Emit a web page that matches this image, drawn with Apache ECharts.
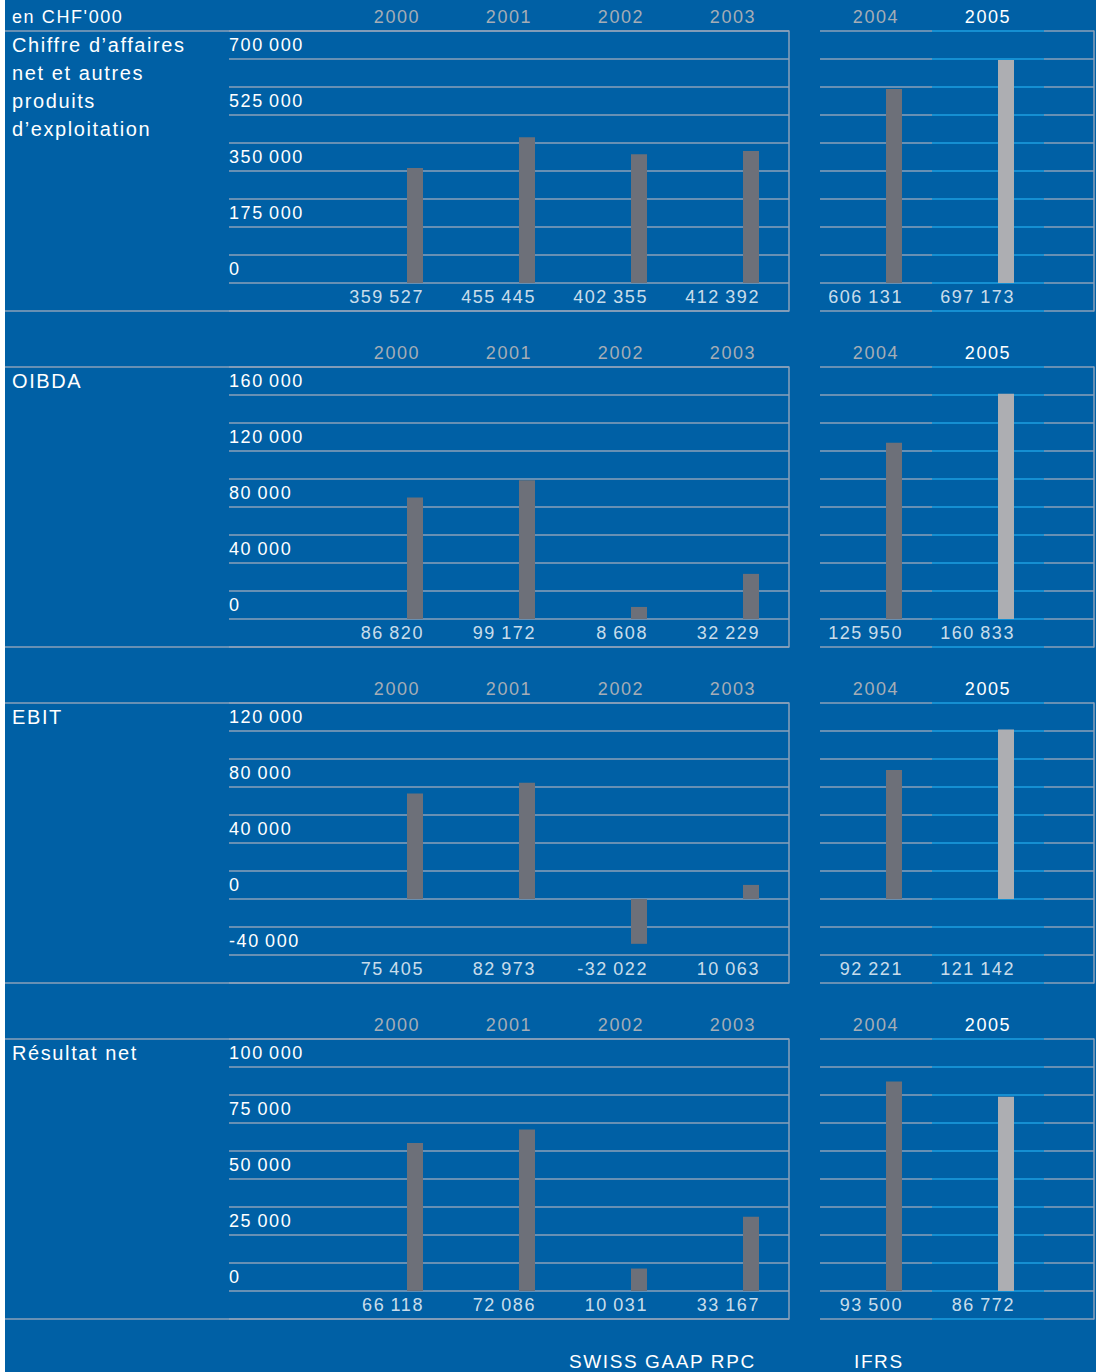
<!DOCTYPE html>
<html>
<head>
<meta charset="utf-8">
<script src="https://cdn.jsdelivr.net/npm/echarts@6/dist/echarts.min.js"></script>
<style>
  html, body { margin: 0; padding: 0; background: #ffffff; }
  #chart {
    position: absolute; left: 0; top: 0; width: 1096px; height: 1372px;
    background: linear-gradient(to right, #ffffff 0px, #ffffff 5px, #0060a5 5px, #0060a5 100%);
    letter-spacing: 1.6px;
  }
</style>
</head>
<body>
<div id="chart"></div>
<script>
// ---- data ----
const years = ['2000', '2001', '2002', '2003', '2004', '2005'];
const unitLabel = "en CHF'000";
const panelTitles = [
  "Chiffre d\u2019affaires\nnet et autres\nproduits\nd\u2019exploitation",
  "OIBDA",
  "EBIT",
  "R\u00e9sultat net"
];
const revenue   = [359527, 455445, 402355, 412392, 606131, 697173];
const oibda     = [86820, 99172, 8608, 32229, 125950, 160833];
const ebit      = [75405, 82973, -32022, 10063, 92221, 121142];
const netResult = [66118, 72086, 10031, 33167, 93500, 86772];
const axisMin   = [-87500, -20000, -60000, -12500];
const axisMax   = [787500, 180000, 140000, 112500];
const axisStep  = [87500, 20000, 20000, 12500];
const labelStep = [175000, 40000, 40000, 25000];
const standardLeft = 'SWISS GAAP RPC';
const standardRight = 'IFRS';

const panels = [revenue, oibda, ebit, netResult];

// ---- style ----
const FONT = 'Liberation Sans';
const LINE = '#8aa1ba';
const LINE_HI = '#1d9fe2';
const BAR = '#6d7079';
const BAR_HI = '#adaeb2';
const YEAR_GREY = '#a5adb6';
const WHITE = '#ffffff';
const LW = 1.5;

function fmt(n) {
  const s = String(Math.abs(Math.round(n)));
  const parts = [];
  for (let i = s.length; i > 0; i -= 3) parts.unshift(s.slice(Math.max(0, i - 3), i));
  return (n < 0 ? '-' : '') + parts.join('\u2009');
}

const grids = [], xAxes = [], yAxes = [], series = [], titles = [];

titles.push({ text: unitLabel, left: 12, top: 3, padding: 0,
  textStyle: { color: WHITE, fontSize: 18, fontWeight: 'normal', fontFamily: FONT, lineHeight: 28 } });

panels.forEach((vals, p) => {
  const top = 31 + 336 * p;
  const H = 280;
  const base = grids.length;
  const mn = axisMin[p], mx = axisMax[p], st = axisStep[p], ls = labelStep[p];
  const labelY = mn + st / 2;

  titles.push({ text: panelTitles[p], left: 12, top: top, padding: 0,
    textStyle: { color: WHITE, fontSize: 20, fontWeight: 'normal', fontFamily: FONT, lineHeight: 28 } });

  grids.push({ left: 5, top: top, width: 784, height: H });
  grids.push({ left: 229, top: top, width: 560, height: H });
  grids.push({ left: 820, top: top, width: 112, height: H });
  grids.push({ left: 932, top: top, width: 112, height: H });
  grids.push({ left: 1044, top: top, width: 50, height: H });

  const yCommon = (gi, color, extra) => Object.assign({
    gridIndex: gi, type: 'value', min: mn, max: mx, interval: st,
    axisLine: { show: false }, axisTick: { show: false }, axisLabel: { show: false },
    splitLine: { show: true, lineStyle: { color: color, width: LW } }
  }, extra || {});

  xAxes.push({ gridIndex: base, type: 'value', min: 0, max: 1, show: false });
  yAxes.push({ gridIndex: base, type: 'value', min: 0, max: 1, interval: 1, position: 'right',
    axisLine: { show: true, onZero: false, lineStyle: { color: LINE, width: LW } },
    axisTick: { show: false }, axisLabel: { show: false },
    splitLine: { show: true, lineStyle: { color: LINE, width: LW } } });

  const xCat = (gi, data, color) => ({
    gridIndex: gi, type: 'category', data: data, position: 'top',
    axisLine: { show: false }, axisTick: { show: false }, splitLine: { show: false },
    axisLabel: { show: true, color: color, fontSize: 18, fontFamily: FONT, margin: 5, interval: 0 }
  });

  xAxes.push(xCat(base + 1, [''].concat(years.slice(0, 4)), YEAR_GREY));
  yAxes.push(yCommon(base + 1, LINE, {
    axisLabel: {
      show: true, inside: true, margin: 0, align: 'left', verticalAlign: 'bottom',
      lineHeight: 28, color: WHITE, fontSize: 18, fontFamily: FONT,
      showMinLabel: true, showMaxLabel: true,
      formatter: (v) => (v > mn && v < mx && Math.round(v) % ls === 0) ? fmt(v) : ''
    }
  }));
  xAxes.push(xCat(base + 2, [years[4]], YEAR_GREY));
  yAxes.push(yCommon(base + 2, LINE));
  xAxes.push(xCat(base + 3, [years[5]], WHITE));
  yAxes.push(yCommon(base + 3, LINE_HI));
  xAxes.push({ gridIndex: base + 4, type: 'category', data: [''], show: false });
  yAxes.push(yCommon(base + 4, LINE, { position: 'right',
    axisLine: { show: true, onZero: false, lineStyle: { color: LINE, width: LW } } }));

  const barPair = (gi, data, color) => {
    const empty = data.map(() => null);
    series.push({ type: 'bar', xAxisIndex: gi, yAxisIndex: gi, data: empty,
      barWidth: 16, barGap: '125%', silent: true });
    series.push({ type: 'bar', xAxisIndex: gi, yAxisIndex: gi, data: data,
      barWidth: 16, barGap: '125%', silent: true,
      itemStyle: { color: color } });
  };
  const labels = (gi, cats, values) => {
    series.push({ type: 'scatter', xAxisIndex: gi, yAxisIndex: gi, silent: true,
      symbolSize: 1, itemStyle: { color: 'rgba(0,0,0,0)' },
      data: cats.map((c, i) => [c, labelY, values[i]]),
      label: { show: true, position: 'inside', align: 'right', verticalAlign: 'middle',
        offset: [27, 0], color: WHITE, fontSize: 18, fontFamily: FONT,
        formatter: (q) => fmt(q.value[2]) } });
  };

  barPair(base + 1, [null].concat(vals.slice(0, 4)), BAR);
  labels(base + 1, [1, 2, 3, 4], vals.slice(0, 4));
  barPair(base + 2, [vals[4]], BAR);
  labels(base + 2, [0], [vals[4]]);
  barPair(base + 3, [vals[5]], BAR_HI);
  labels(base + 3, [0], [vals[5]]);
});

titles.push({ text: standardLeft, left: 569, top: 1347, padding: 0,
  textStyle: { color: WHITE, fontSize: 19, fontWeight: 'normal', fontFamily: FONT, lineHeight: 28 } });
titles.push({ text: standardRight, left: 854, top: 1347, padding: 0,
  textStyle: { color: WHITE, fontSize: 19, fontWeight: 'normal', fontFamily: FONT, lineHeight: 28 } });

const chart = echarts.init(document.getElementById('chart'), null, { renderer: 'svg', width: 1096, height: 1372 });
chart.setOption({
  backgroundColor: 'transparent',
  animation: false,
  textStyle: { fontFamily: FONT },
  title: titles,
  grid: grids,
  xAxis: xAxes,
  yAxis: yAxes,
  series: series
});
</script>
</body>
</html>
